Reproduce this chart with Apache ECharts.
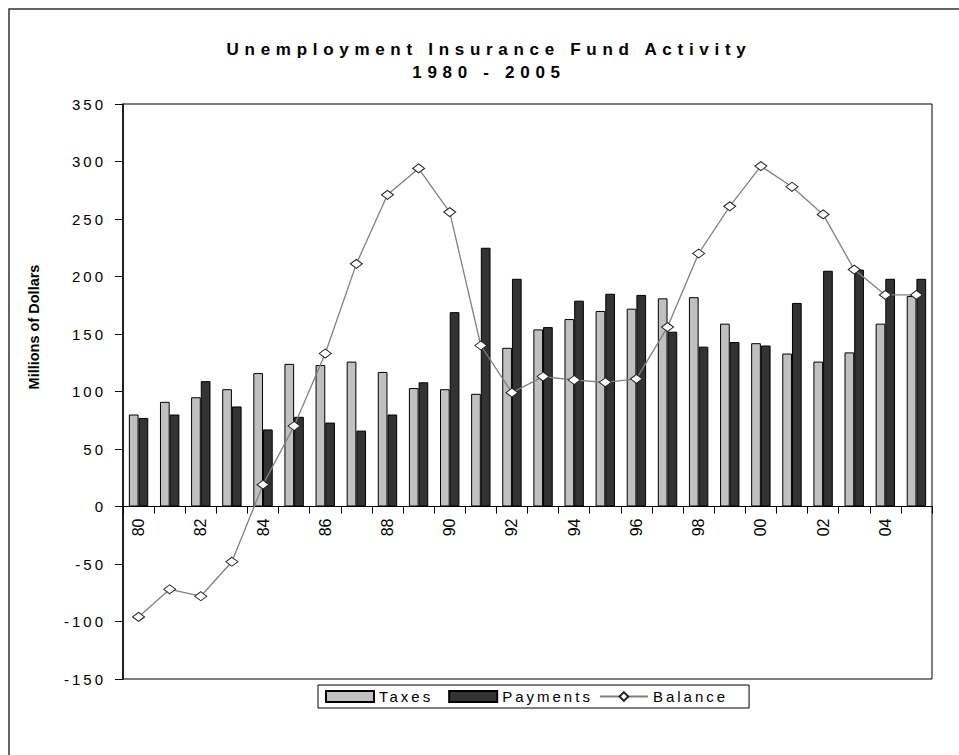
<!DOCTYPE html>
<html>
<head>
<meta charset="utf-8">
<title>Unemployment Insurance Fund Activity</title>
<script src="https://cdn.jsdelivr.net/npm/echarts@6/dist/echarts.min.js"></script>
<style>
  html, body { margin: 0; padding: 0; background: #fff; }
  #chart { width: 959px; height: 755px; }
  /* the original has wide letter spacing on title, legend and y ticks */
  text[style*="xsp"] { letter-spacing: 3px; }
  text[style*="xsq"] { letter-spacing: 5.7px; }
</style>
</head>
<body>
<div id="chart"></div>
<script>
const years = ['80', '81', '82', '83', '84', '85', '86', '87', '88', '89', '90', '91', '92',
  '93', '94', '95', '96', '97', '98', '99', '00', '01', '02', '03', '04', '05'];
const taxes = [80, 91, 95, 102, 116, 124, 123, 126, 117, 103, 102, 98, 138,
  154, 163, 170, 172, 181, 182, 159, 142, 133, 126, 134, 159, 183];
const payments = [77, 80, 109, 87, 67, 78, 73, 66, 80, 108, 169, 225, 198,
  156, 179, 185, 184, 152, 139, 143, 140, 177, 205, 206, 198, 198];
const balance = [-96, -72, -78, -48, 19, 70, 133, 211, 271, 294, 256, 140, 99,
  113, 110, 108, 111, 156, 220, 261, 296, 278, 254, 206, 184, 184];

const yMin = -150;
const yMax = 350;

const plain = 'Liberation Sans';
const spaced = 'Liberation Sans, xsp';
const wide = 'Liberation Sans, xsq';

const gridTop = 104;
const gridBottom = 76;
const plotHeight = 755 - gridTop - gridBottom;
// x axis sits on the zero line, lifted up from the bottom of the grid
const zeroLift = plotHeight * (0 - yMin) / (yMax - yMin);

const chart = echarts.init(document.getElementById('chart'), null, { renderer: 'svg' });

const option = {
  backgroundColor: '#fff',
  animation: false,
  title: {
    text: 'Unemployment Insurance Fund Activity\n1980 - 2005',
    left: 489,
    top: 38,
    padding: 0,
    textAlign: 'center',
    textStyle: { fontFamily: wide, fontSize: 17, fontWeight: 'bold', color: '#000', lineHeight: 23 }
  },
  graphic: [
    {
      type: 'rect',
      shape: { x: 9, y: 9, width: 960, height: 760 },
      style: { fill: 'none', stroke: '#333', lineWidth: 1.5 },
      silent: true
    },
    {
      type: 'text',
      x: 34,
      y: 327,
      rotation: Math.PI / 2,
      style: {
        text: 'Millions of Dollars',
        font: 'bold 14.5px Liberation Sans',
        fill: '#000',
        textAlign: 'center',
        textVerticalAlign: 'middle'
      }
    }
  ],
  legend: {
    left: 318,
    top: 685,
    orient: 'horizontal',
    selectedMode: false,
    itemWidth: 48,
    itemHeight: 11,
    itemGap: 30,
    padding: [4, 42, 4, 7],
    borderColor: '#000',
    borderWidth: 1,
    textStyle: { fontFamily: spaced, fontSize: 15, color: '#000' },
    data: [
      { name: 'Taxes', icon: 'rect' },
      { name: 'Payments', icon: 'rect' },
      'Balance'
    ]
  },
  grid: {
    left: 123,
    right: 27,
    top: gridTop,
    bottom: gridBottom,
    show: true,
    borderColor: '#000',
    borderWidth: 1,
    containLabel: false,
    outerBoundsMode: 'none'
  },
  xAxis: {
    type: 'category',
    data: years,
    position: 'bottom',
    offset: -zeroLift,
    axisLine: { show: true, onZero: false, lineStyle: { color: '#000', width: 1 } },
    axisTick: { show: true, interval: 0, length: 7, lineStyle: { color: '#000', width: 1 } },
    axisLabel: {
      interval: 1,
      rotate: 90,
      margin: 12,
      fontFamily: plain,
      fontSize: 16,
      color: '#000'
    },
    splitLine: { show: false }
  },
  yAxis: {
    type: 'value',
    min: yMin,
    max: yMax,
    interval: 50,
    axisLine: { show: true, lineStyle: { color: '#000', width: 1.5 } },
    axisTick: { show: true, length: 8, lineStyle: { color: '#000' } },
    axisLabel: { margin: 17, fontFamily: spaced, fontSize: 15, color: '#000' },
    splitLine: { show: false }
  },
  series: [
    {
      name: 'Taxes',
      type: 'bar',
      data: taxes,
      barWidth: 9.7,
      barGap: '0%',
      itemStyle: { color: '#c0c0c0', borderColor: '#000', borderWidth: 1 }
    },
    {
      name: 'Payments',
      type: 'bar',
      data: payments,
      barWidth: 9.7,
      barGap: '0%',
      itemStyle: { color: '#333333', borderColor: '#000', borderWidth: 1 }
    },
    {
      name: 'Balance',
      type: 'line',
      data: balance,
      symbol: 'diamond',
      symbolSize: [12, 9],
      showAllSymbol: true,
      lineStyle: { color: '#808080', width: 1.3 },
      itemStyle: { color: '#fff', borderColor: '#222', borderWidth: 1 },
      z: 5
    }
  ]
};

chart.setOption(option);
</script>
</body>
</html>
